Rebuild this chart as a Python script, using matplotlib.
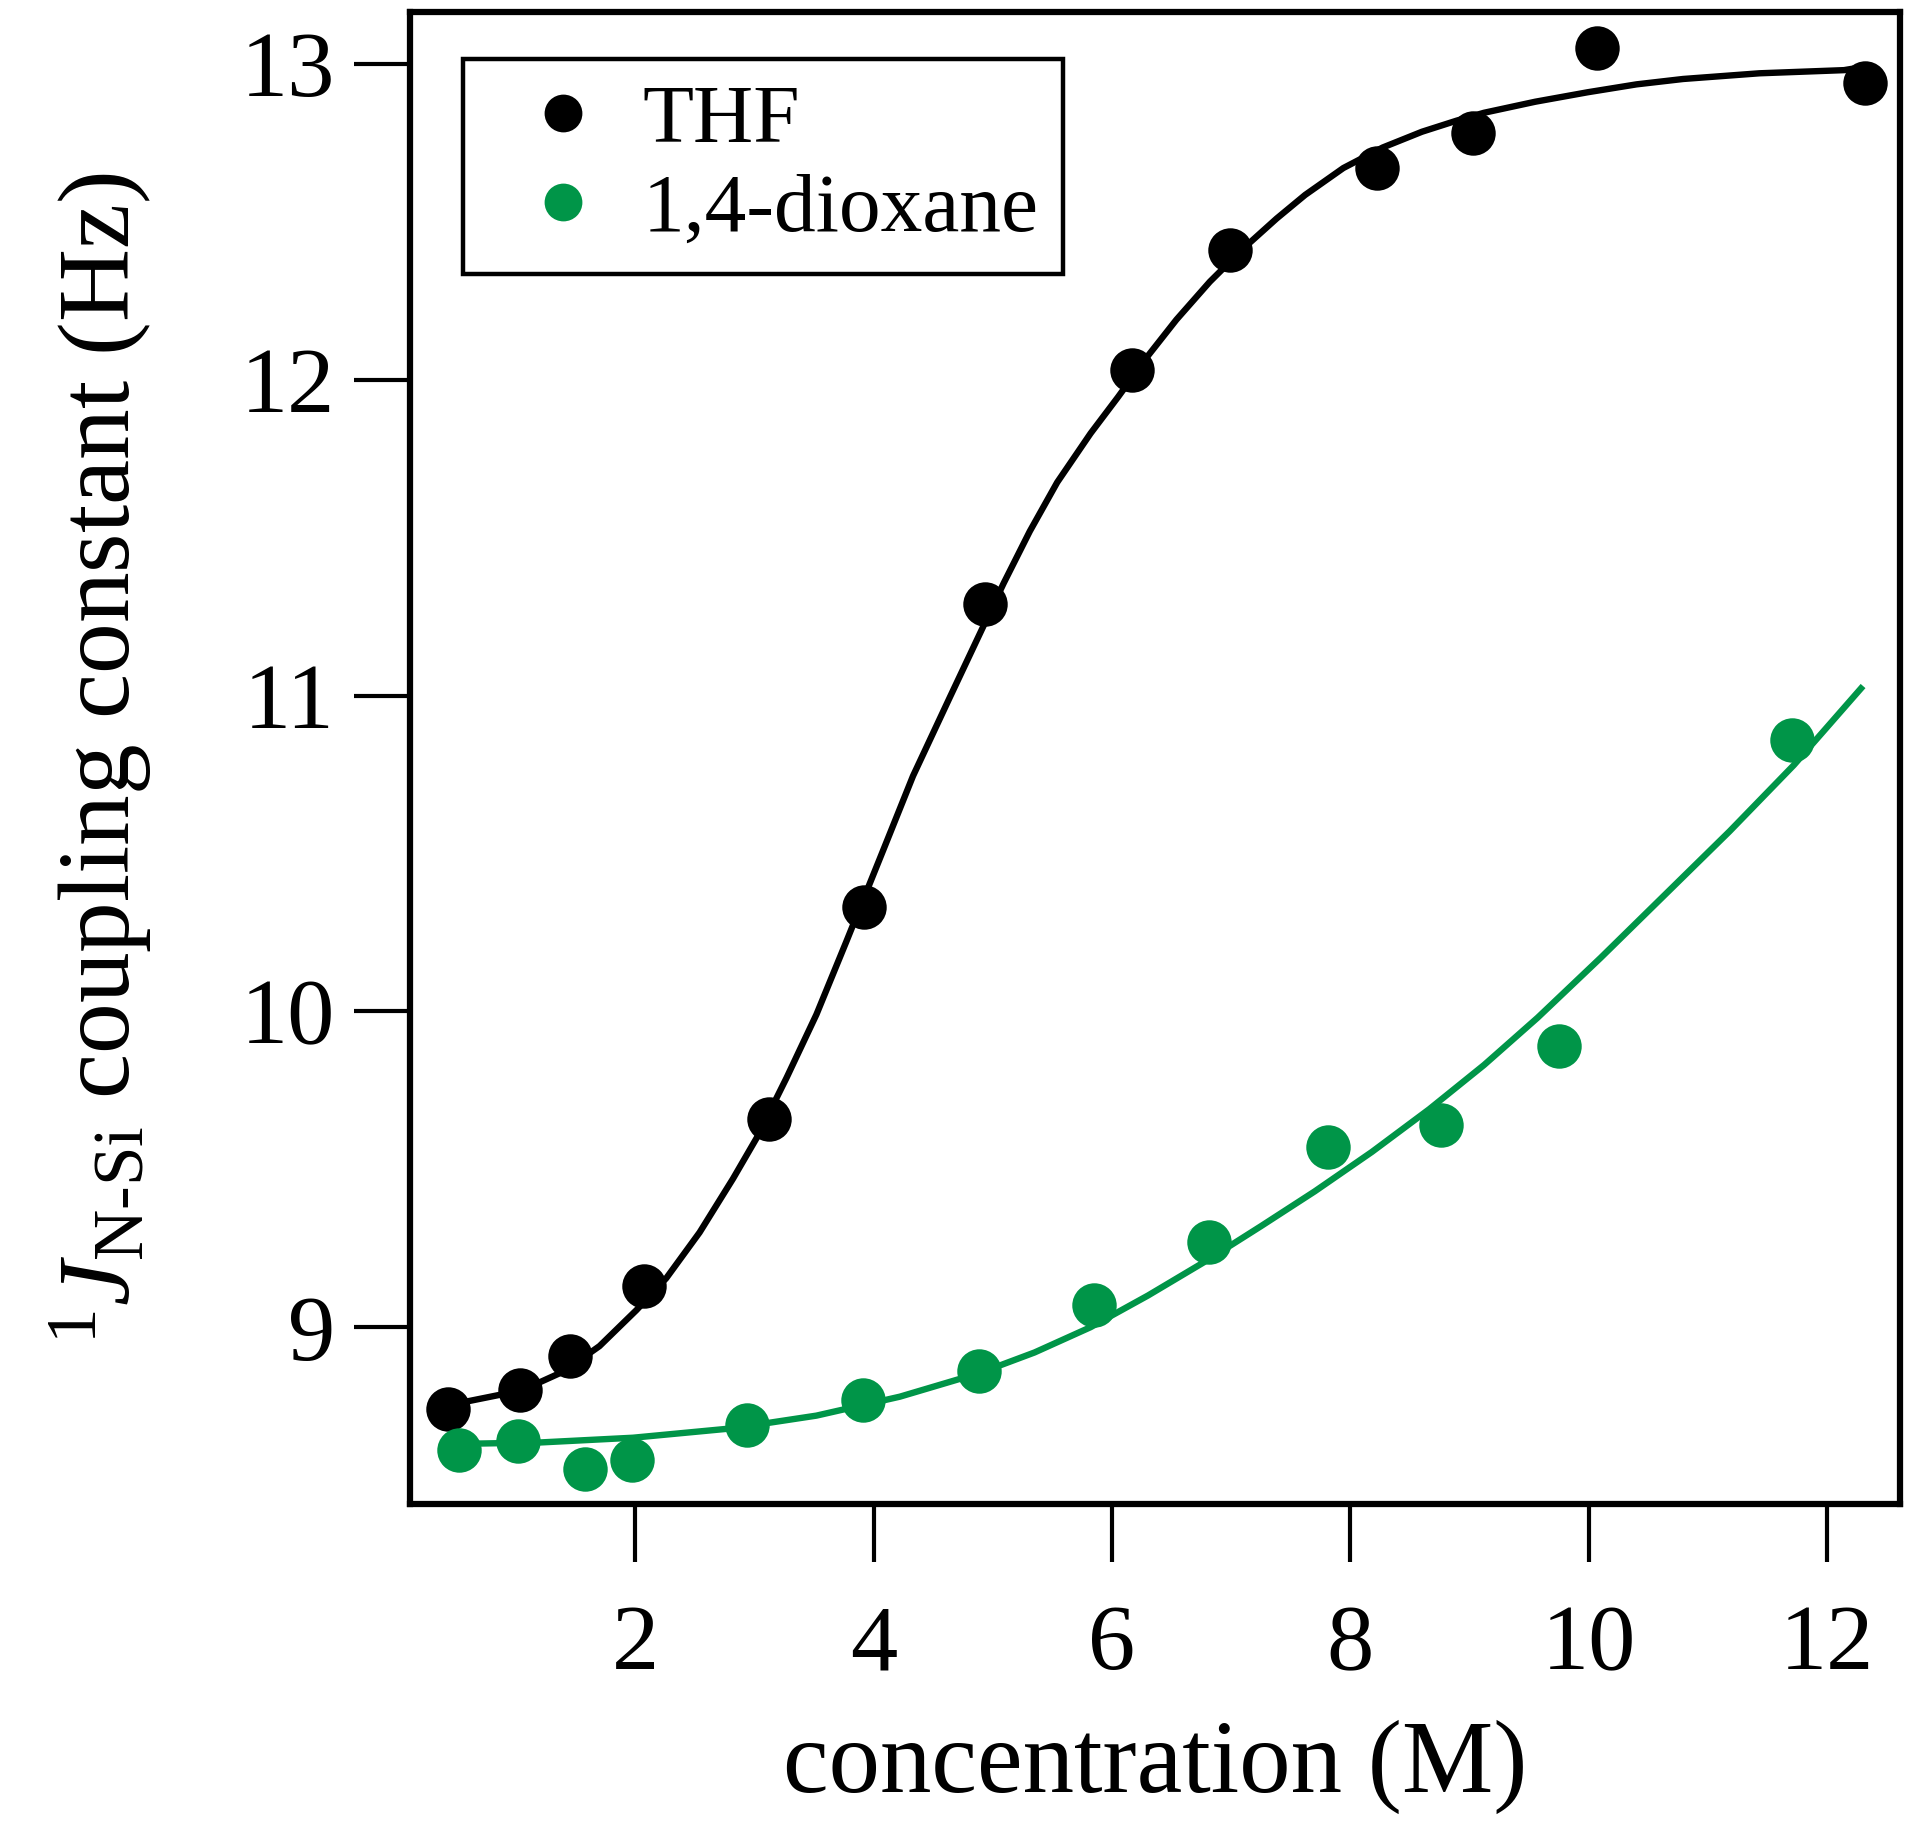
import matplotlib
matplotlib.use("Agg")
import matplotlib.pyplot as plt

# ---- data ----
thf_x = [0.43, 1.03, 1.45, 2.07, 3.12, 3.92, 4.93, 6.17, 6.99, 8.22, 9.03, 10.07, 12.32]
thf_y = [8.74, 8.80, 8.91, 9.13, 9.66, 10.33, 11.29, 12.03, 12.41, 12.67, 12.78, 13.05, 12.94]

diox_x = [0.52, 1.02, 1.58, 1.97, 2.94, 3.91, 4.88, 5.85, 6.81, 7.81, 8.76, 9.75, 11.70]
diox_y = [8.61, 8.64, 8.55, 8.58, 8.69, 8.77, 8.86, 9.07, 9.27, 9.57, 9.64, 9.89, 10.86]

# fitted curves, points
thf_fit_x = [0.43, 0.59, 1.05, 1.40, 1.70, 2.01, 2.26, 2.54, 2.82, 3.02, 3.27, 3.52,
             3.77, 4.08, 4.33, 4.64, 5.09, 5.31, 5.54, 5.82, 6.05, 6.30, 6.54, 6.82,
             7.10, 7.38, 7.62, 7.94, 8.27, 8.60, 8.89, 9.12, 9.55, 9.99, 10.40, 10.79,
             11.43, 12.14, 12.22]
thf_fit_y = [8.755, 8.765, 8.80, 8.86, 8.94, 9.054, 9.155, 9.30, 9.47, 9.60, 9.79, 9.99,
             10.22, 10.51, 10.745, 10.995, 11.355, 11.52, 11.675, 11.83, 11.945, 12.075, 12.19, 12.31,
             12.415, 12.51, 12.585, 12.67, 12.735, 12.785, 12.82, 12.845, 12.88, 12.91, 12.935, 12.952,
             12.97, 12.98, 12.985]

diox_fit_x = [0.45, 1.20, 1.98, 2.82, 3.52, 4.22, 4.89, 5.35, 5.82, 6.30, 6.79, 7.25,
              7.70, 8.18, 8.66, 9.12, 9.57, 10.10, 10.64, 11.18, 11.72, 12.30]
diox_fit_y = [8.63, 8.635, 8.65, 8.68, 8.72, 8.78, 8.855, 8.92, 9.00, 9.10, 9.21, 9.32,
              9.43, 9.555, 9.69, 9.83, 9.98, 10.17, 10.37, 10.57, 10.78, 11.03]

x_ticks = [2, 4, 6, 8, 10, 12]
y_ticks = [9, 10, 11, 12, 13]
labels = ["THF", "1,4-dioxane"]

BLACK = "#000000"
GREEN = "#009548"

plt.rcParams["font.family"] = ["Liberation Serif", "DejaVu Serif"]
plt.rcParams["mathtext.fontset"] = "custom"
plt.rcParams["mathtext.rm"] = "Liberation Serif"
plt.rcParams["mathtext.it"] = "Liberation Serif:italic"

fig = plt.figure(figsize=(19.2, 18.22), dpi=100)
ax = fig.add_axes([0.2135, 0.1745, 0.9896 - 0.2135, 0.9934 - 0.1745])

ax.plot(thf_fit_x, thf_fit_y, color=BLACK, lw=4.6, solid_capstyle="butt",
        solid_joinstyle="round", zorder=2)
ax.plot(thf_x, thf_y, "o", color=BLACK, ms=32, mew=0, label=labels[0], zorder=3, clip_on=False)
ax.plot(diox_fit_x, diox_fit_y, color=GREEN, lw=4.6, solid_capstyle="butt",
        solid_joinstyle="round", zorder=4)
ax.plot(diox_x, diox_y, "o", color=GREEN, ms=32, mew=0, label=labels[1], zorder=5, clip_on=False)

ax.set_xlim(0.11, 12.61)
ax.set_ylim(8.44, 13.164)
ax.set_xticks(x_ticks)
ax.set_yticks(y_ticks)
ax.set_xticklabels([str(v) for v in x_ticks])
ax.set_yticklabels([str(v) for v in y_ticks])

for s in ax.spines.values():
    s.set_linewidth(4.5)
ax.tick_params(axis="both", direction="out", width=3, labelsize=68, top=False, right=False)
ax.tick_params(axis="x", length=42, pad=30)
ax.tick_params(axis="y", length=40, pad=14)

ax.set_xlabel("concentration (M)", fontsize=74, labelpad=22)
ax.set_ylabel("$^{1}J_{\\mathrm{N\u2010Si}}$ coupling constant (Hz)", fontsize=73, labelpad=62)

leg = ax.legend(loc="upper left", bbox_to_anchor=(0.0356, 0.9685), borderaxespad=0,
                fontsize=60, frameon=True, fancybox=False, framealpha=1,
                edgecolor="black", borderpad=0.3, handlelength=1.8, handletextpad=0.05,
                labelspacing=0.15, markerscale=0.85, numpoints=1)
leg.get_frame().set_linewidth(3.2)

fig.savefig("out.png", dpi=100)
